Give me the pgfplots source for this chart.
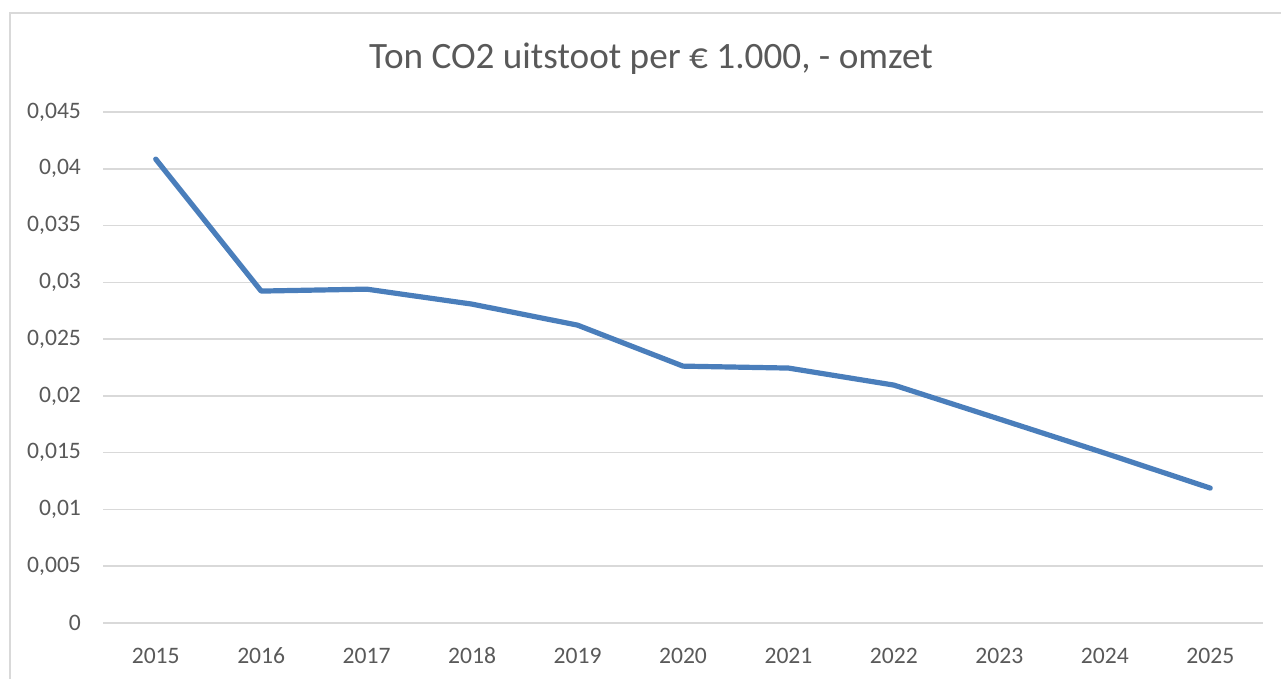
\documentclass[border=0pt]{standalone}
\usepackage{pgfplots}
\pgfplotsset{compat=1.18}
\usepackage{fontspec}
\setmainfont{Carlito}
\definecolor{gridgray}{HTML}{D9D9D9}
\definecolor{txtgray}{HTML}{595959}
\definecolor{lineblue}{HTML}{4A7EBB}
\begin{document}
\begin{tikzpicture}[x=0.5pt,y=0.5pt]
\useasboundingbox (0,0) rectangle (1281,679);
\begin{scope}
\clip (0,0) rectangle (1281,679);
\draw[gridgray, line width=0.8pt] (10,-20) -- (10,666) -- (1300,666);
\end{scope}
\node[anchor=base, text=txtgray, font=\fontsize{18.6pt}{22pt}\selectfont] at (651,610) {Ton CO2 uitstoot per € 1.000, - omzet};
\begin{axis}[
  at={(51.5pt,28pt)}, anchor=south west,
  scale only axis, width=580pt, height=255.5pt,
  xmin=-0.5, xmax=10.5, ymin=0, ymax=0.045,
  xtick={0,...,10},
  xticklabels={2015,2016,2017,2018,2019,2020,2021,2022,2023,2024,2025},
  ytick={0,0.005,0.01,0.015,0.02,0.025,0.03,0.035,0.04,0.045},
  scaled y ticks=false,
  /pgf/number format/use comma,
  /pgf/number format/fixed,
  /pgf/number format/precision=3,
  /pgf/number format/assume math mode=true,
  ymajorgrids, grid style={gridgray, line width=0.75pt},
  axis line style={draw=none},
  major tick length=0pt,
  tick label style={text=txtgray, font=\fontsize{11.8pt}{14pt}\selectfont},
  xticklabel style={yshift=-8.5pt, text height=8pt, text depth=0pt},
  yticklabel style={xshift=-7.5pt},
  clip=false,
]
\addplot[lineblue, line width=2.6pt, line cap=round, line join=round] coordinates {
(0,0.04085) (1,0.02923) (2,0.0294) (3,0.02808) (4,0.02623) (5,0.02262) (6,0.02245) (7,0.02095) (8,0.01796) (9,0.01496) (10,0.01188)
};
\end{axis}
\end{tikzpicture}
\end{document}
